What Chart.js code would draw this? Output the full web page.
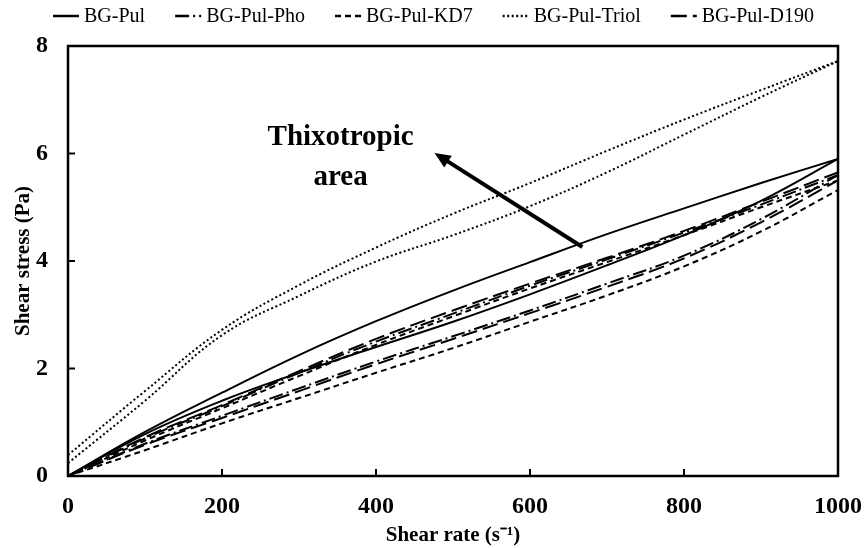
<!DOCTYPE html>
<html>
<head>
<meta charset="utf-8">
<script src="https://cdn.jsdelivr.net/npm/chart.js@4.4.0/dist/chart.umd.min.js"></script>
<style>
  html, body { margin: 0; padding: 0; background: #fff; }
</style>
</head>
<body>
<canvas id="flowChart" width="867" height="548"></canvas>
<script>
// Shear rate points (s-1) and tick labels
const rates = [0, 100, 200, 300, 400, 500, 600, 700, 800, 900, 1000];
const xTickValues = [0, 200, 400, 600, 800, 1000];
const yTickValues = [0, 2, 4, 6, 8];

const seriesNames = ['BG-Pul', 'BG-Pul-Pho', 'BG-Pul-KD7', 'BG-Pul-Triol', 'BG-Pul-D190'];

// Shear stress (Pa): ramp-up and ramp-down curves
const pulUp     = [0, 0.82, 1.55, 2.25, 2.88, 3.45, 3.98, 4.50, 4.98, 5.45, 5.90];
const pulDown   = [0, 0.78, 1.40, 1.92, 2.40, 2.87, 3.38, 3.92, 4.48, 5.12, 5.90];
const phoUp     = [0, 0.70, 1.30, 1.92, 2.50, 3.02, 3.54, 4.03, 4.53, 5.05, 5.60];
const phoDown   = [0, 0.60, 1.12, 1.63, 2.13, 2.60, 3.08, 3.58, 4.10, 4.78, 5.60];
const kd7Up     = [0, 0.66, 1.26, 1.86, 2.44, 2.97, 3.49, 3.98, 4.48, 5.00, 5.50];
const kd7Down   = [0, 0.48, 0.98, 1.45, 1.92, 2.38, 2.87, 3.36, 3.90, 4.55, 5.32];
const triolUp   = [0.39, 1.58, 2.72, 3.55, 4.25, 4.88, 5.45, 6.05, 6.63, 7.18, 7.72];
const triolDown = [0.24, 1.40, 2.62, 3.35, 3.99, 4.48, 5.02, 5.65, 6.35, 7.05, 7.72];
const d190Up    = [0, 0.72, 1.32, 1.95, 2.55, 3.08, 3.58, 4.06, 4.56, 5.10, 5.65];
const d190Down  = [0, 0.58, 1.08, 1.58, 2.08, 2.55, 3.03, 3.52, 4.05, 4.72, 5.50];

const upRamps   = [pulUp, phoUp, kd7Up, triolUp, d190Up];
const downRamps = [pulDown, phoDown, kd7Down, triolDown, d190Down];
const dashes    = [[], [14, 4, 2, 4], [6, 4], [2, 2.5], [16, 6]];

const serif = "'Liberation Serif', 'Times New Roman', serif";

const datasets = [];
seriesNames.forEach((name, i) => {
  [upRamps[i], downRamps[i]].forEach((vals, k) => {
    datasets.push({
      label: name,
      data: rates.map((r, j) => ({ x: r, y: vals[j] })),
      borderColor: '#000',
      borderWidth: 2,
      borderDash: dashes[i],
      pointRadius: 0,
      showLine: true,
      fill: false,
      tension: 0.4,
      inLegend: k === 0
    });
  });
});

// frame, inner ticks, arrow + note, and the legend row
const decorPlugin = {
  id: 'decor',
  afterDatasetsDraw(chart) {
    const { ctx, chartArea: a, scales: { x, y } } = chart;
    ctx.save();
    ctx.strokeStyle = '#000';
    ctx.setLineDash([]);
    ctx.lineWidth = 2.5;
    ctx.strokeRect(a.left, a.top, a.right - a.left, a.bottom - a.top);

    ctx.lineWidth = 2;
    xTickValues.forEach(v => {
      const px = x.getPixelForValue(v);
      ctx.beginPath(); ctx.moveTo(px, a.bottom); ctx.lineTo(px, a.bottom - 7); ctx.stroke();
    });
    yTickValues.forEach(v => {
      const py = y.getPixelForValue(v);
      ctx.beginPath(); ctx.moveTo(a.left, py); ctx.lineTo(a.left + 7, py); ctx.stroke();
    });

    // arrow into the thixotropic loop
    const x0 = x.getPixelForValue(668), y0 = y.getPixelForValue(4.26);
    const x1 = x.getPixelForValue(476), y1 = y.getPixelForValue(6.01);
    const ang = Math.atan2(y1 - y0, x1 - x0);
    const head = 16;
    ctx.lineWidth = 4;
    ctx.beginPath();
    ctx.moveTo(x0, y0);
    ctx.lineTo(x1 - Math.cos(ang) * head * 0.8, y1 - Math.sin(ang) * head * 0.8);
    ctx.stroke();
    ctx.fillStyle = '#000';
    ctx.beginPath();
    ctx.moveTo(x1, y1);
    ctx.lineTo(x1 - head * Math.cos(ang) + 7 * Math.sin(ang), y1 - head * Math.sin(ang) - 7 * Math.cos(ang));
    ctx.lineTo(x1 - head * Math.cos(ang) - 7 * Math.sin(ang), y1 - head * Math.sin(ang) + 7 * Math.cos(ang));
    ctx.closePath();
    ctx.fill();

    ctx.font = 'bold 29px ' + serif;
    ctx.textAlign = 'center';
    ctx.textBaseline = 'alphabetic';
    const tx = x.getPixelForValue(354);
    ctx.fillText('Thixotropic', tx, y.getPixelForValue(6.16));
    ctx.fillText('area', tx, y.getPixelForValue(5.41));
    ctx.restore();
  },
  afterDraw(chart) {
    const { ctx } = chart;
    const items = chart.data.datasets.filter(d => d.inLegend);
    const sampleW = 26, gapText = 5, gapItem = 30, rowY = 16;
    ctx.save();
    ctx.font = '20px ' + serif;
    const widths = items.map(d => sampleW + gapText + ctx.measureText(d.label).width);
    const total = widths.reduce((s, w) => s + w, 0) + gapItem * (items.length - 1);
    let cx = chart.width / 2 - total / 2;
    items.forEach((d, i) => {
      ctx.strokeStyle = '#000';
      ctx.lineWidth = 2.5;
      ctx.setLineDash(d.borderDash);
      ctx.beginPath(); ctx.moveTo(cx, rowY); ctx.lineTo(cx + sampleW, rowY); ctx.stroke();
      ctx.setLineDash([]);
      ctx.fillStyle = '#000';
      ctx.textAlign = 'left';
      ctx.textBaseline = 'middle';
      ctx.fillText(d.label, cx + sampleW + gapText, rowY + 1);
      cx += widths[i] + gapItem;
    });
    ctx.restore();
  }
};

new Chart(document.getElementById('flowChart'), {
  type: 'scatter',
  data: { datasets },
  plugins: [decorPlugin],
  options: {
    responsive: false,
    animation: false,
    devicePixelRatio: 1,
    layout: { padding: { top: 46, right: 29, left: 0, bottom: 0 } },
    plugins: { legend: { display: false }, tooltip: { enabled: false } },
    scales: {
      x: {
        type: 'linear', min: 0, max: 1000,
        afterBuildTicks: s => { s.ticks = xTickValues.map(v => ({ value: v })); },
        afterFit: s => { s.height = 72; s.paddingLeft = 0; s.paddingRight = 0; },
        grid: { display: false, drawTicks: false },
        border: { display: false },
        ticks: { color: '#000', padding: 16, callback: v => String(v), font: { family: serif, size: 24, weight: 'bold' } },
        title: {
          display: true, text: 'Shear rate (s\u207B\u00B9)', color: '#000',
          font: { family: serif, size: 21, weight: 'bold' }, padding: { top: 0, bottom: 0 }
        }
      },
      y: {
        type: 'linear', min: 0, max: 8,
        afterBuildTicks: s => { s.ticks = yTickValues.map(v => ({ value: v })); },
        afterFit: s => { s.width = 68; },
        grid: { display: false, drawTicks: false },
        border: { display: false },
        ticks: { color: '#000', padding: 20, callback: v => String(v), font: { family: serif, size: 24, weight: 'bold' } },
        title: {
          display: true, text: 'Shear stress (Pa)', color: '#000',
          font: { family: serif, size: 21, weight: 'bold' }, padding: { top: 11, bottom: 0 }
        }
      }
    }
  }
});
</script>
</body>
</html>
